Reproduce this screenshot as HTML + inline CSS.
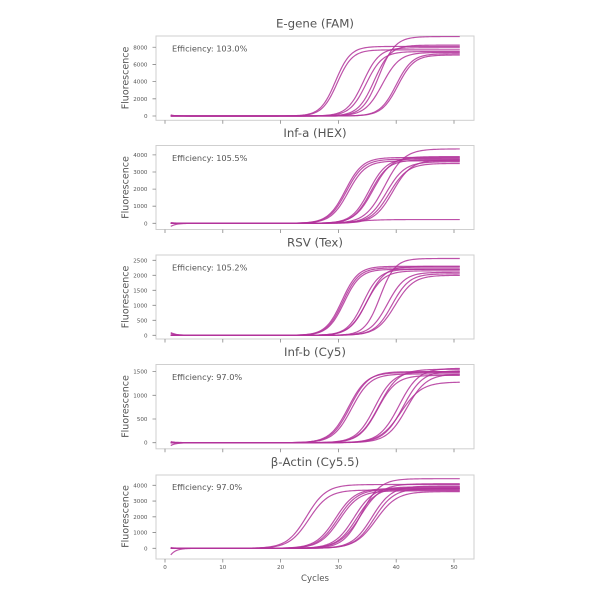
<!DOCTYPE html>
<html><head><meta charset="utf-8">
<style>
body{margin:0;background:#fff}
svg{display:block}
text{font-family:"DejaVu Sans","Liberation Sans",sans-serif;fill:#555}
</style></head><body>
<svg id="s" width="600" height="600" xmlns="http://www.w3.org/2000/svg">
<rect width="600" height="600" fill="#fff"/>
<!-- titles -->
<text x="315" y="27.5" font-size="11.8" text-anchor="middle">E-gene (FAM)</text>
<text x="315" y="137.2" font-size="11.8" text-anchor="middle">Inf-a (HEX)</text>
<text x="315" y="246.7" font-size="11.8" text-anchor="middle">RSV (Tex)</text>
<text x="315" y="356.2" font-size="11.8" text-anchor="middle">Inf-b (Cy5)</text>
<text x="315" y="466" font-size="11.8" text-anchor="middle">β-Actin (Cy5.5)</text>
<!-- efficiency -->
<text x="172" y="51.5" font-size="8.2">Efficiency: 103.0%</text>
<text x="172" y="161" font-size="8.2">Efficiency: 105.5%</text>
<text x="172" y="270.5" font-size="8.2">Efficiency: 105.2%</text>
<text x="172" y="380" font-size="8.2">Efficiency: 97.0%</text>
<text x="172" y="490" font-size="8.2">Efficiency: 97.0%</text>
<!-- y labels -->
<g fill="#5a5a5a">
<text font-size="9.5" text-anchor="middle" transform="translate(128.3,78) rotate(-90)">Fluorescence</text>
<text font-size="9.5" text-anchor="middle" transform="translate(128.3,187.5) rotate(-90)">Fluorescence</text>
<text font-size="9.5" text-anchor="middle" transform="translate(128.3,297) rotate(-90)">Fluorescence</text>
<text font-size="9.5" text-anchor="middle" transform="translate(128.3,406.5) rotate(-90)">Fluorescence</text>
<text font-size="9.5" text-anchor="middle" transform="translate(128.3,516.5) rotate(-90)">Fluorescence</text>
</g>
<!-- y tick labels -->
<g font-size="5.6" text-anchor="end">
<text x="147.5" y="118">0</text><text x="147.5" y="100.8">2000</text><text x="147.5" y="83.7">4000</text><text x="147.5" y="66.5">6000</text><text x="147.5" y="49.3">8000</text>
<text x="147.5" y="225.3">0</text><text x="147.5" y="208.2">1000</text><text x="147.5" y="191.1">2000</text><text x="147.5" y="174">3000</text><text x="147.5" y="156.9">4000</text>
<text x="147.5" y="337.3">0</text><text x="147.5" y="322.3">500</text><text x="147.5" y="307.3">1000</text><text x="147.5" y="292.3">1500</text><text x="147.5" y="277.3">2000</text><text x="147.5" y="262.3">2500</text>
<text x="147.5" y="444.7">0</text><text x="147.5" y="421">500</text><text x="147.5" y="397.3">1000</text><text x="147.5" y="373.6">1500</text>
<text x="147.5" y="550.3">0</text><text x="147.5" y="534.6">1000</text><text x="147.5" y="518.8">2000</text><text x="147.5" y="503.1">3000</text><text x="147.5" y="487.3">4000</text>
</g>
<!-- x tick labels -->
<g font-size="5.6" text-anchor="middle">
<text x="165" y="569">0</text><text x="222.8" y="569">10</text><text x="280.6" y="569">20</text><text x="338.4" y="569">30</text><text x="396.2" y="569">40</text><text x="454" y="569">50</text>
</g>
<text x="315" y="581" font-size="8.6" text-anchor="middle">Cycles</text>
<g id="axes"></g>
<g id="curves"></g>
</svg>
<script>
(function(){
var NS="http://www.w3.org/2000/svg";
var panels=[
 {top:36,bot:120.3,y0:116,s:8.59,ticks:[0,2000,4000,6000,8000],
  curves:[[8100,29.5,1.3,120],[7700,29.8,1.3,0],[7950,34.3,1.4,0],[7500,34.8,1.4,60],[9250,37.0,1.4,0],[8250,36.2,1.4,0],[7400,37.6,1.5,0],[7250,40.0,1.4,0],[7100,40.3,1.4,80]]},
 {top:145.5,bot:229.5,y0:223.3,s:17.1,ticks:[0,1000,2000,3000,4000],
  curves:[[3850,31.2,1.5,-180],[3750,31.4,1.5,0],[3650,31.7,1.5,0],[3800,35.3,1.5,40],[3700,35.6,1.5,0],[3900,36.0,1.6,0],[3600,38.3,1.6,0],[3500,38.8,1.6,0],[3700,39.4,1.6,0],[4350,38.0,1.7,0],[220,33,2,0]]},
 {top:255,bot:339,y0:335.3,s:30,ticks:[0,500,1000,1500,2000,2500],
  curves:[[2250,30.8,1.4,90],[2200,31.0,1.4,0],[2300,30.6,1.4,60],[2200,34.3,1.4,0],[2150,34.8,1.5,0],[2300,35.0,1.5,0],[2100,38.5,1.5,0],[2050,39.3,1.5,0],[2000,39.8,1.6,0],[2560,37.2,1.3,0]]},
 {top:364.5,bot:448.8,y0:442.7,s:47.4,ticks:[0,500,1000,1500],
  curves:[[1500,32.0,1.6,-60],[1450,32.3,1.6,25],[1480,31.7,1.6,0],[1500,36.3,1.6,0],[1420,36.8,1.6,0],[1550,37.0,1.7,0],[1570,40.5,1.7,0],[1520,41.2,1.7,0],[1450,41.8,1.7,0],[1280,40.8,1.8,0]]},
 {top:475,bot:559,y0:548.3,s:15.75,ticks:[0,1000,2000,3000,4000],
  curves:[[4050,24.5,1.7,-420],[3700,24.9,1.7,50],[3800,29.5,1.7,0],[3750,29.9,1.7,0],[3650,30.2,1.7,0],[3900,32.7,1.7,0],[3850,33.2,1.7,0],[4100,33.8,1.8,0],[3950,35.8,1.7,0],[3800,36.2,1.7,0],[3600,36.5,1.8,0],[4420,34.0,1.6,0]]}
];
function X(c){return 165+c*5.78;}
var ax=document.getElementById("axes"),cv=document.getElementById("curves");
panels.forEach(function(p){
  var r=document.createElementNS(NS,"rect");
  r.setAttribute("x",156);r.setAttribute("y",p.top);r.setAttribute("width",318);r.setAttribute("height",p.bot-p.top);
  r.setAttribute("fill","none");r.setAttribute("stroke","#cfcfcf");r.setAttribute("stroke-width","1");
  ax.appendChild(r);
  var d="";
  p.ticks.forEach(function(t){var y=p.y0-t*p.s/1000;d+="M152.5 "+y.toFixed(2)+"H156";});
  for(var c=0;c<=50;c+=10){var x=X(c);d+="M"+x.toFixed(2)+" "+p.bot+"V"+(p.bot+3.5);}
  var tp=document.createElementNS(NS,"path");tp.setAttribute("d",d);tp.setAttribute("stroke","#888");tp.setAttribute("stroke-width","0.8");tp.setAttribute("fill","none");
  ax.appendChild(tp);
  p.curves.forEach(function(q){
    var pd="";
    for(var c=1;c<=51.001;c+=0.25){
      var v=q[0]/(1+Math.exp(-(c-q[1])/q[2]))+q[3]*Math.exp(-(c-1)/0.9);
      var y=p.y0-v*p.s/1000;
      pd+=(pd?"L":"M")+X(c).toFixed(2)+" "+y.toFixed(2);
    }
    var e=document.createElementNS(NS,"path");
    e.setAttribute("d",pd);e.setAttribute("fill","none");e.setAttribute("stroke","#b2339a");
    e.setAttribute("stroke-width","1.2");e.setAttribute("stroke-opacity","0.85");
    cv.appendChild(e);
  });
});
})();
</script>
</body></html>
